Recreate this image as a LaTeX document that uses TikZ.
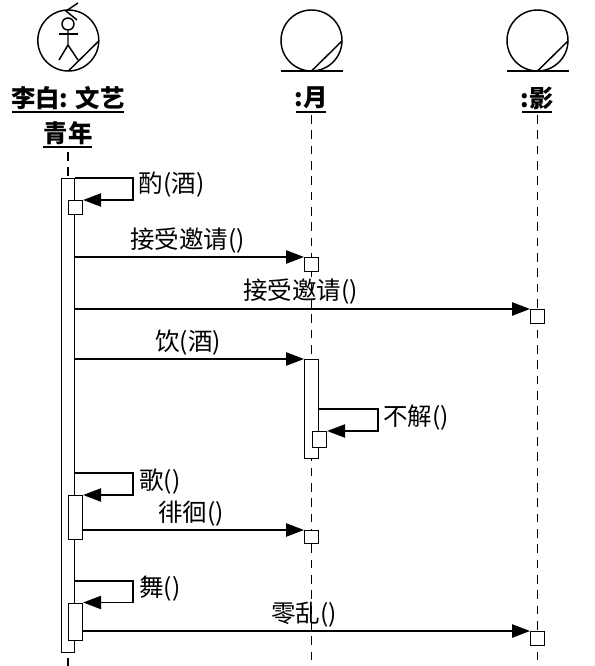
\documentclass[tikz,border=0pt]{standalone}
\usepackage{fontspec}
\setmainfont{Noto Sans CJK SC}
\usetikzlibrary{arrows.meta}
\tikzset{
  every path/.style={line width=1.1pt},
  life/.style={dash pattern=on 6.5pt off 5pt},
  bar/.style={draw,fill=white,rectangle,inner sep=0pt,anchor=north west},
  msg/.style={-{Triangle[length=13.5pt,width=10pt]}},
  lbl/.style={inner sep=0pt,font=\fontsize{18.4}{22}\selectfont},
  head/.style={inner sep=0pt,font=\fontsize{18.3}{22}\selectfont\bfseries},
}
\newcommand{\boxat}[5]{\node[bar,minimum width=#4*0.75pt,minimum height=#5*0.75pt] (#1) at (#2,#3) {};}
\begin{document}
\begin{tikzpicture}[x=0.75pt,y=-0.75pt]
\useasboundingbox (0,0) rectangle (594,666);
% lifelines
\coordinate (t1) at (68,152);
\coordinate (e1) at (68,666);
\coordinate (t2) at (311.5,115);
\coordinate (e2) at (311.5,661);
\coordinate (t3) at (537.5,115);
\coordinate (e3) at (537.5,661);
\draw[life] (t1) -- (e1);
\draw[life] (t2) -- (e2);
\draw[life] (t3) -- (e3);
% actor icon
\node[draw,circle,inner sep=0pt,minimum size=61*0.75pt] (ca) at (68.3,40.5) {};
\draw (68.3,71) -- (98.8,41);
\node[draw,circle,inner sep=0pt,minimum size=12*0.75pt] (hd) at (68,24) {};
\draw (hd.south) -- (68,45) -- (59,60);
\draw (68,45) -- (78,60);
\draw (59,34) -- (78,34);
\draw (78,3) -- (66,11) -- (77,20);
% moon
\node[draw,circle,inner sep=0pt,minimum size=61*0.75pt] (cm) at (311.5,40.5) {};
\draw (281,71) -- (343,71);
\draw (311.5,71) -- (342,41);
% shadow
\node[draw,circle,inner sep=0pt,minimum size=61*0.75pt] (cs) at (537.5,40.5) {};
\draw (507,71) -- (569,71);
\draw (537.5,71) -- (568,41);
% headings
\node[head] (l1) at (68,98) {李白: 文艺};
\draw (12,112) -- (124,112);
\node[head] (l1b) at (68,133) {青年};
\draw (43,147) -- (92,147);
\node[head] (l2) at (311,98) {:月};
\draw (296,112) -- (326,112);
\node[head] (l3) at (537,98) {:影};
\draw (522,112) -- (552,112);
% activations
\boxat{A}{61}{178}{13}{474}
\boxat{a1}{67.7}{200}{14}{14}
\boxat{b1}{304}{257}{14}{14}
\boxat{c1}{530}{309}{14}{13.5}
\boxat{B}{304}{359}{14}{99}
\boxat{b2}{311.7}{431}{14}{15.5}
\boxat{a2}{67.7}{495}{14}{44}
\boxat{b3}{304}{530}{14}{13}
\boxat{a3}{67.7}{602.5}{14}{37.5}
\boxat{c2}{530}{631}{14}{14}
% messages
\draw[msg] (A.north east) -- (133,178) -- (133,200) -- (a1.north east);
\draw[msg] (A.east |- b1.north) -- (b1.north west);
\draw[msg] (A.east |- c1.north) -- (c1.north west);
\draw[msg] (A.east |- B.north) -- (B.north west);
\draw[msg] (B.east |- 0,409) -- (378,409) -- (378,431) -- (b2.north east);
\draw[msg] (A.east |- 0,473) -- (133,473) -- (133,495) -- (a2.north east);
\draw[msg] (a2.east |- b3.north) -- (b3.north west);
\draw[msg] (A.east |- 0,581) -- (133,581) -- (133,602.5) -- (a3.north east);
\draw[msg] (a3.east |- c2.north) -- (c2.north west);
% labels
\node[lbl] (m1) at (171.5,185) {酌(酒)};
\node[lbl] (m2) at (187.5,241) {接受邀请()};
\node[lbl] (m3) at (300.5,292) {接受邀请()};
\node[lbl] (m4) at (188,343) {饮(酒)};
\node[lbl] (m5) at (416,418) {不解()};
\node[lbl] (m6) at (160,482) {歌()};
\node[lbl] (m7) at (191,514) {徘徊()};
\node[lbl] (m8) at (160,589) {舞()};
\node[lbl] (m9) at (304,615) {零乱()};
\end{tikzpicture}
\end{document}
